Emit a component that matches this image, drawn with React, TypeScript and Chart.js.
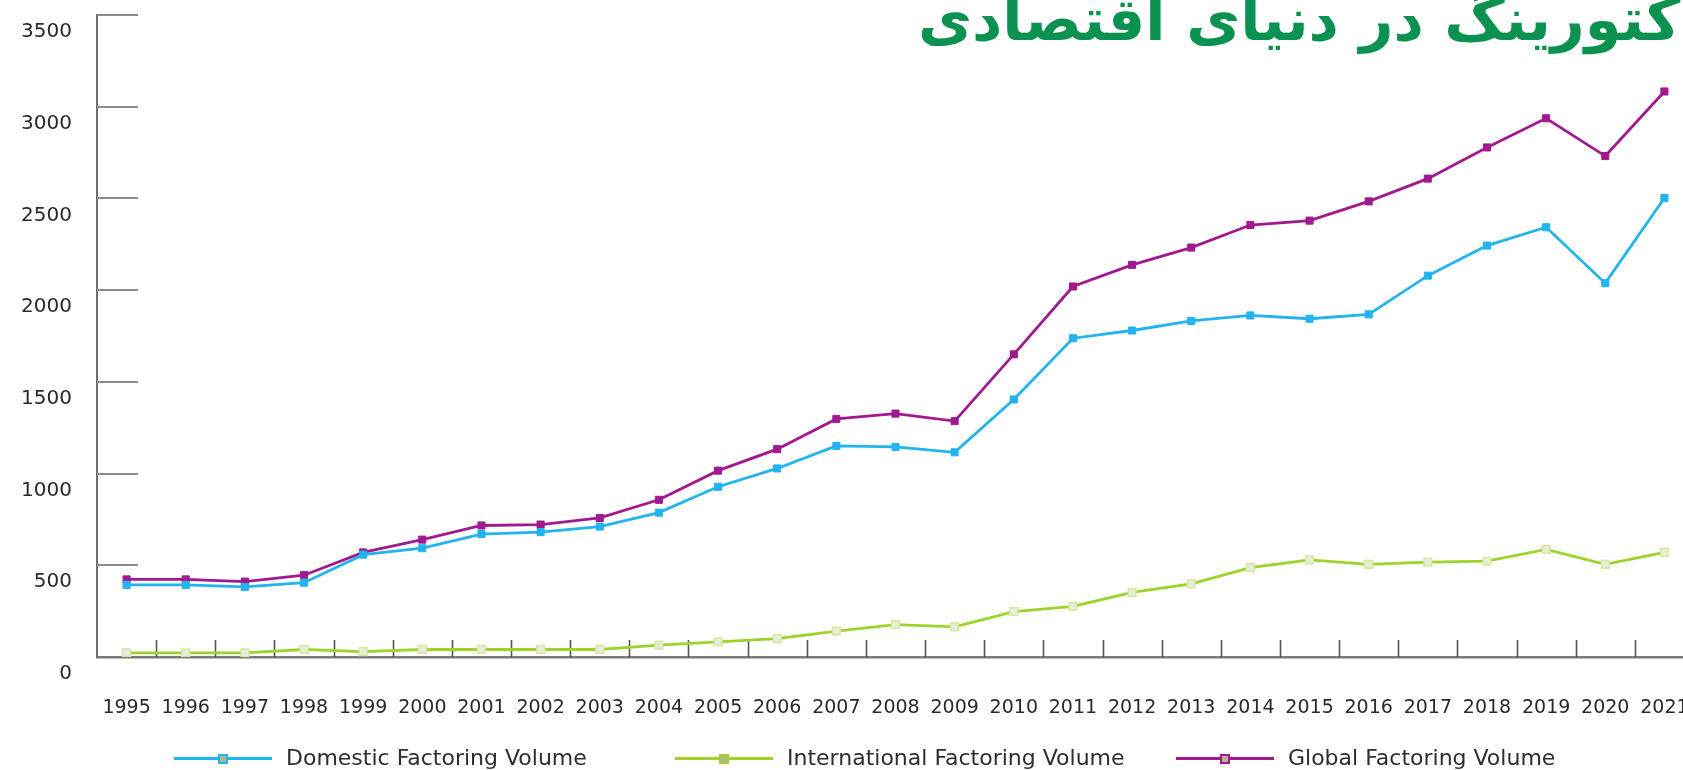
import React, { useEffect, useRef } from "react";
import { Chart, registerables } from "chart.js";

Chart.register(...registerables);

const years = [
  "1995", "1996", "1997", "1998", "1999", "2000", "2001", "2002", "2003",
  "2004", "2005", "2006", "2007", "2008", "2009", "2010", "2011", "2012",
  "2013", "2014", "2015", "2016", "2017", "2018", "2019", "2020", "2021",
];

const domestic = [
  393, 393, 382, 405, 558, 593, 670, 681, 711, 787, 928, 1028, 1151, 1145,
  1116, 1404, 1738, 1780, 1832, 1862, 1844, 1868, 2079, 2243, 2343, 2038, 2502,
];

const international = [
  23, 23, 23, 41, 29, 41, 41, 41, 41, 65, 82, 100, 141, 176, 164, 247, 276,
  352, 399, 487, 529, 505, 517, 523, 587, 505, 570,
];

const globalVol = [
  423, 423, 411, 446, 570, 640, 717, 722, 758, 857, 1016, 1133, 1298, 1327,
  1286, 1650, 2020, 2138, 2232, 2355, 2379, 2484, 2608, 2778, 2937, 2731, 3083,
];

const seriesNames = [
  "Domestic Factoring Volume",
  "International Factoring Volume",
  "Global Factoring Volume",
];

const titleText = "فاکتورینگ در دنیای اقتصادی";

const BLUE = "#22b4ef";
const GREEN = "#9fd22a";
const PURPLE = "#a0198f";
const FONT = "'DejaVu Sans', 'Noto Sans', sans-serif";

const innerTicks = {
  id: "innerTicks",
  beforeDatasetsDraw(chart: any) {
    const { ctx, chartArea, scales } = chart;
    const x = scales.x;
    const y = scales.y;
    ctx.save();
    ctx.lineCap = "butt";
    ctx.strokeStyle = "#8c8c8c";
    ctx.lineWidth = 2;
    y.ticks.forEach((t: any, i: number) => {
      if (t.value === 0) return;
      const py = Math.round(y.getPixelForTick(i));
      ctx.beginPath();
      ctx.moveTo(chartArea.left, py);
      ctx.lineTo(chartArea.left + 41, py);
      ctx.stroke();
    });
    ctx.strokeStyle = "#555555";
    ctx.lineWidth = 1.6;
    const step = x.getPixelForValue(1) - x.getPixelForValue(0);
    for (let i = 0; i < years.length; i++) {
      const px = Math.round(x.getPixelForValue(i) + step / 2) + 0.5;
      ctx.beginPath();
      ctx.moveTo(px, chartArea.bottom);
      ctx.lineTo(px, chartArea.bottom - 17);
      ctx.stroke();
    }
    ctx.restore();
  },
};

function LegendItem({ left, color, label }: { left: number; color: string; label: string }) {
  return (
    <div
      style={{
        position: "absolute",
        left,
        top: 744,
        height: 28,
        display: "flex",
        alignItems: "center",
        whiteSpace: "nowrap",
      }}
    >
      <div style={{ position: "relative", width: 98, height: 28 }}>
        <div
          style={{
            position: "absolute",
            left: 0,
            top: 13,
            width: 98,
            height: 3,
            background: color,
          }}
        />
        <div
          style={{
            position: "absolute",
            left: 44,
            top: 10,
            width: 6,
            height: 6,
            background: "#b3b38c",
            border: `2px solid ${color}`,
            boxSizing: "content-box",
          }}
        />
      </div>
      <span
        style={{
          marginLeft: 14,
          fontFamily: FONT,
          fontSize: 22,
          color: "#2e2e2e",
          lineHeight: "28px",
        }}
      >
        {label}
      </span>
    </div>
  );
}

export default function App() {
  const canvasRef = useRef<HTMLCanvasElement | null>(null);

  useEffect(() => {
    const canvas = canvasRef.current;
    if (!canvas) return;
    const chart = new Chart(canvas, {
      type: "line",
      data: {
        labels: years,
        datasets: [
          {
            label: seriesNames[0],
            data: domestic,
            borderColor: BLUE,
            backgroundColor: BLUE,
            pointBackgroundColor: BLUE,
            pointBorderColor: BLUE,
            borderWidth: 2.8,
            pointStyle: "rect",
            pointRadius: 5,
            pointBorderWidth: 1,
            tension: 0,
          },
          {
            label: seriesNames[1],
            data: international,
            borderColor: GREEN,
            backgroundColor: "#e4ead8",
            pointBackgroundColor: "#e6ebdc",
            pointBorderColor: "#d5ea9c",
            borderWidth: 2.8,
            pointStyle: "rect",
            pointRadius: 5.5,
            pointBorderWidth: 1.5,
            tension: 0,
          },
          {
            label: seriesNames[2],
            data: globalVol,
            borderColor: PURPLE,
            backgroundColor: PURPLE,
            pointBackgroundColor: PURPLE,
            pointBorderColor: PURPLE,
            borderWidth: 2.8,
            pointStyle: "rect",
            pointRadius: 5,
            pointBorderWidth: 1,
            tension: 0,
          },
        ],
      },
      options: {
        responsive: false,
        animation: false,
        devicePixelRatio: 1,
        layout: { padding: { top: 15, right: 36, bottom: 0, left: 0 } },
        plugins: {
          legend: { display: false },
          tooltip: { enabled: false },
          title: { display: false },
        },
        scales: {
          x: {
            type: "category",
            offset: true,
            grid: { display: true, drawOnChartArea: false, drawTicks: false },
            border: { display: true, color: "#7a7a7a", width: 2.5 },
            ticks: {
              color: "#2a2a2a",
              font: { family: FONT, size: 19 },
              padding: 40,
              maxRotation: 0,
              autoSkip: false,
            },
            afterFit: (s: any) => {
              s.height = 113;
              s.paddingLeft = 0;
              s.paddingRight = 0;
            },
          },
          y: {
            min: 0,
            max: 3500,
            grid: { display: true, drawOnChartArea: false, drawTicks: false },
            border: { display: true, color: "#6e6e6e", width: 2 },
            ticks: {
              stepSize: 500,
              color: "#2a2a2a",
              font: { family: FONT, size: 20 },
              padding: 25,
              labelOffset: 17,
              callback: (v: any) => String(v),
            },
            afterFit: (s: any) => {
              s.width = 97;
              s.paddingTop = 0;
              s.paddingBottom = 0;
            },
          },
        },
      },
      plugins: [innerTicks],
    });
    return () => chart.destroy();
  }, []);

  return (
    <div
      style={{
        position: "absolute",
        left: 0,
        top: 0,
        width: 1683,
        height: 770,
        overflow: "hidden",
        background: "#ffffff",
      }}
    >
      <canvas
        ref={canvasRef}
        width={1730}
        height={770}
        style={{ position: "absolute", left: 0, top: 0, width: 1730, height: 770 }}
      />
      <div
        dir="rtl"
        style={{
          position: "absolute",
          right: -58,
          top: -30,
          fontFamily: "'DejaVu Sans', sans-serif",
          fontWeight: "bold",
          fontSize: 59,
          color: "#0b9150",
          whiteSpace: "nowrap",
          lineHeight: "100px",
        }}
      >
        {titleText}
      </div>
      <LegendItem left={174} color={BLUE} label={seriesNames[0]} />
      <LegendItem left={675} color={GREEN} label={seriesNames[1]} />
      <LegendItem left={1176} color={PURPLE} label={seriesNames[2]} />
    </div>
  );
}
